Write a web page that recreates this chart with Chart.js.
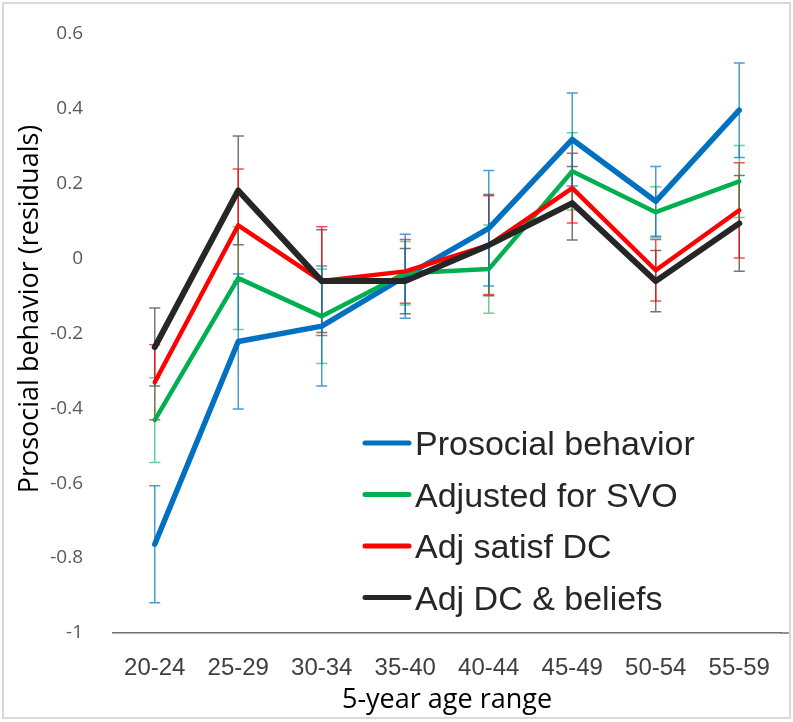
<!DOCTYPE html>
<html>
<head>
<meta charset="utf-8">
<title>Prosocial behavior by age</title>
<script src="https://cdn.jsdelivr.net/npm/chart.js@4.4.1/dist/chart.umd.min.js"></script>
<style>
    html, body { margin: 0; padding: 0; background: #fff; }
    #frame {
        position: absolute; left: 2px; top: 2px; width: 789px; height: 717px;
        box-sizing: border-box; border: 2px solid #d9d9d9; pointer-events: none;
    }
    #chart { position: absolute; left: 0; top: 0; }
</style>
</head>
<body>
<canvas id="chart" width="793" height="722"></canvas>
<div id="frame"></div>
<script>
const ageRanges = ['20-24', '25-29', '30-34', '35-40', '40-44', '45-49', '50-54', '55-59'];

const prosocial = [-0.763, -0.222, -0.181, -0.048, 0.080, 0.317, 0.152, 0.395];
const prosocialErr = [0.156, 0.180, 0.160, 0.112, 0.154, 0.124, 0.093, 0.126];

const adjSvo = [-0.432, -0.053, -0.155, -0.040, -0.029, 0.232, 0.123, 0.205];
const adjSvoErr = [0.113, 0.137, 0.126, 0.085, 0.118, 0.103, 0.068, 0.096];

const adjSatisf = [-0.331, 0.088, -0.061, -0.035, 0.035, 0.187, -0.032, 0.128];
const adjSatisfErr = [0.100, 0.150, 0.145, 0.085, 0.132, 0.093, 0.082, 0.127];

const adjBeliefs = [-0.237, 0.181, -0.061, -0.061, 0.035, 0.147, -0.061, 0.093];
const adjBeliefsErr = [0.104, 0.145, 0.137, 0.087, 0.135, 0.098, 0.082, 0.128];

const yTitle = 'Prosocial behavior (residuals)';
const xTitle = '5-year age range';

// error bars drawn under the lines
const errorBars = {
    id: 'errorBars',
    beforeDatasetsDraw(chart) {
        const ctx = chart.ctx;
        const x = chart.scales.x;
        const y = chart.scales.y;
        const sets = [...chart.data.datasets].map((d, i) => ({ d, i })).reverse();
        ctx.save();
        sets.forEach(({ d }) => {
            ctx.strokeStyle = d.errColor;
            ctx.lineWidth = 1.5;
            d.data.forEach((v, j) => {
                const px = x.getPixelForValue(j);
                const top = y.getPixelForValue(v + d.err[j]);
                const bot = y.getPixelForValue(v - d.err[j]);
                ctx.beginPath();
                ctx.moveTo(px, top); ctx.lineTo(px, bot);
                ctx.moveTo(px - 5.5, top); ctx.lineTo(px + 5.5, top);
                ctx.moveTo(px - 5.5, bot); ctx.lineTo(px + 5.5, bot);
                ctx.stroke();
            });
        });
        ctx.restore();
    }
};

// legend inside the plot + rotated y title
const extras = {
    id: 'extras',
    afterDraw(chart) {
        const ctx = chart.ctx;
        const area = chart.chartArea;
        ctx.save();

        // axis line runs on to the frame like the original
        ctx.strokeStyle = '#707070';
        ctx.lineWidth = 1.5;
        ctx.beginPath();
        ctx.moveTo(area.right, area.bottom);
        ctx.lineTo(790, area.bottom);
        ctx.stroke();

        chart.data.datasets.forEach((d, i) => {
            const base = 455 + i * 51.5;
            ctx.strokeStyle = d.borderColor;
            ctx.lineWidth = 5;
            ctx.lineCap = 'round';
            ctx.beginPath();
            ctx.moveTo(365, base - 12);
            ctx.lineTo(409, base - 12);
            ctx.stroke();
            ctx.fillStyle = '#262626';
            ctx.font = '34px "Liberation Sans", Arial, sans-serif';
            ctx.textBaseline = 'alphabetic';
            ctx.textAlign = 'left';
            ctx.fillText(d.label, 415, base);
        });

        ctx.translate(30, 309);
        ctx.rotate(-Math.PI / 2);
        ctx.fillStyle = '#000';
        ctx.font = '27px "Open Sans", sans-serif';
        ctx.textAlign = 'center';
        ctx.textBaseline = 'middle';
        ctx.fillText(yTitle, 0, 0);
        ctx.restore();
    }
};

function series(label, data, err, color, errColor, width, order) {
    return {
        label: label,
        data: data,
        err: err,
        errColor: errColor,
        borderColor: color,
        backgroundColor: color,
        borderWidth: width,
        borderJoinStyle: 'round',
        borderCapStyle: 'round',
        pointRadius: 0,
        pointHoverRadius: 0,
        tension: 0,
        order: order
    };
}

new Chart(document.getElementById('chart'), {
    type: 'line',
    data: {
        labels: ageRanges,
        datasets: [
            series('Prosocial behavior', prosocial, prosocialErr, '#0070c0', 'rgba(0, 112, 192, 0.7)', 5.5, 4),
            series('Adjusted for SVO', adjSvo, adjSvoErr, '#00b050', 'rgba(0, 176, 80, 0.6)', 4.5, 3),
            series('Adj satisf DC', adjSatisf, adjSatisfErr, '#ff0000', 'rgba(255, 0, 0, 0.7)', 4.5, 2),
            series('Adj DC & beliefs', adjBeliefs, adjBeliefsErr, '#262626', 'rgba(60, 60, 60, 0.7)', 6, 1)
        ]
    },
    options: {
        responsive: false,
        animation: false,
        events: [],
        layout: { padding: { top: 33, right: 12, left: 0, bottom: 0 } },
        plugins: {
            legend: { display: false },
            tooltip: { enabled: false }
        },
        scales: {
            x: {
                offset: true,
                grid: { display: false },
                border: { display: true, color: '#707070', width: 1.5 },
                ticks: {
                    color: '#404040',
                    padding: 13,
                    maxRotation: 0,
                    font: { family: '"Liberation Sans", Arial, sans-serif', size: 24 }
                },
                title: {
                    display: true,
                    text: xTitle,
                    color: '#000',
                    padding: { top: 0, bottom: 5 },
                    font: { family: '"Open Sans", sans-serif', size: 27 }
                },
                afterFit(scale) { scale.height = 89; }
            },
            y: {
                min: -1,
                max: 0.6,
                grid: { display: false },
                border: { display: false },
                ticks: {
                    stepSize: 0.2,
                    color: '#595959',
                    padding: 22,
                    font: { family: '"Open Sans", sans-serif', size: 19 },
                    callback: v => String(Math.round(v * 10) / 10)
                },
                afterFit(scale) { scale.width = 113; }
            }
        }
    },
    plugins: [errorBars, extras]
});
</script>
</body>
</html>
